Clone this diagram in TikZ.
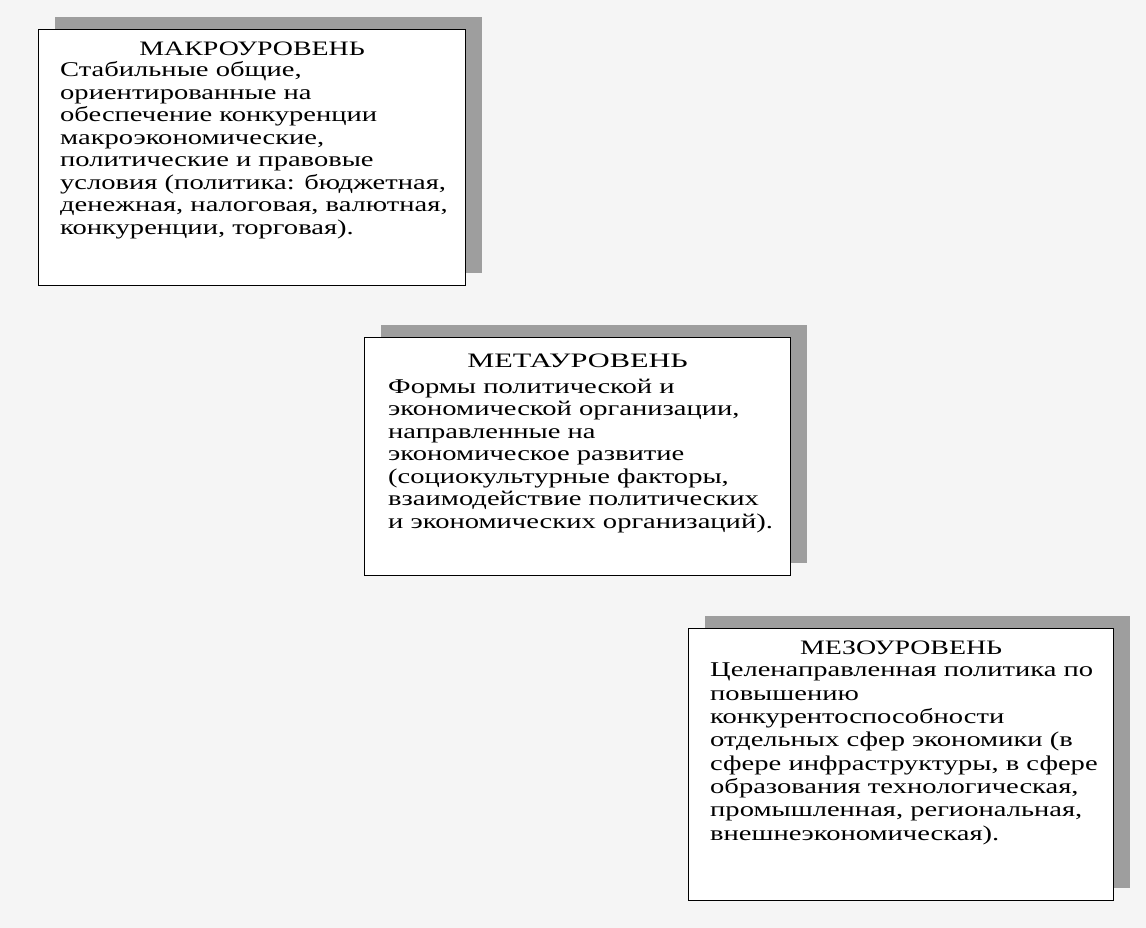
\documentclass[tikz,border=0pt]{standalone}
\usepackage{fontspec}
\setmainfont{Liberation Serif}[FakeStretch=1.36]
\newfontfamily\widefamily{Liberation Serif}[FakeStretch=1.48]
\usetikzlibrary{positioning}
\usetikzlibrary{shadows}
\newcommand{\levelfont}{\fontsize{21bp}{22.5bp}\selectfont}
\newcommand{\titlefont}{\fontsize{20.5bp}{22.5bp}\selectfont}
\tikzset{levelbox/.style={draw, line width=1.3bp, fill=white, anchor=north west, inner sep=0pt,
  drop shadow={shadow xshift=16bp, shadow yshift=13bp, fill=black!38, opacity=1}}}
\tikzset{leveltitle/.style={inner sep=0pt, font=\titlefont}}
\tikzset{leveltext/.style={inner sep=0pt, align=left, font=\levelfont}}

\begin{document}
\begin{tikzpicture}[x=1bp, y=-1bp]
\useasboundingbox (0,0) rectangle (1146,928);
\fill [black!4] (0,0) rectangle (1146,928);

% macro level
\node (macro) [levelbox, minimum width=427bp, minimum height=256bp] at (38,29) {};
\node (macroT) [leveltitle, below=26bp of macro.north, anchor=base] {МАКРОУРОВЕНЬ};
\node (macroB) [leveltext, below right=32.5bp and 22bp of macro.north west, anchor=north west]
  {Стабильные общие,\\ориентированные на\\обеспечение конкуренции\\макроэкономические,\\политические и правовые\\условия (политика: бюджетная,\\денежная, налоговая, валютная,\\конкуренции, торговая).};

% meta level
\node (meta) [levelbox, minimum width=426bp, minimum height=238bp] at (364,337) {};
\node (metaT) [leveltitle, font=\widefamily\titlefont, below=30bp of meta.north, anchor=base] {МЕТАУРОВЕНЬ};
\node (metaB) [leveltext, below right=41.5bp and 24bp of meta.north west, anchor=north west]
  {Формы политической и\\экономической организации,\\направленные на\\экономическое развитие\\(социокультурные факторы,\\взаимодействие политических\\и экономических организаций).};

% meso level
\node (meso) [levelbox, minimum width=425bp, minimum height=272bp] at (688,628) {};
\node (mesoT) [leveltitle, below=26bp of meso.north, anchor=base] {МЕЗОУРОВЕНЬ};
\node (mesoB) [leveltext, font=\fontsize{21bp}{23.3bp}\selectfont, below right=35bp and 22bp of meso.north west, anchor=north west]
  {Целенаправленная политика по\\повышению\\конкурентоспособности\\отдельных сфер экономики (в\\сфере инфраструктуры, в сфере\\образования технологическая,\\промышленная, региональная,\\внешнеэкономическая).};
\end{tikzpicture}
\end{document}
